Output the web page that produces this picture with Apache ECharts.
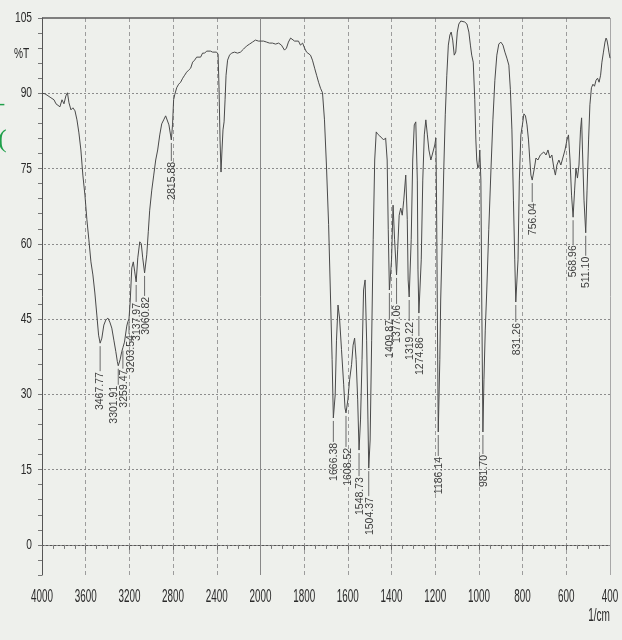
<!DOCTYPE html>
<html>
<head>
<meta charset="utf-8">
<script src="https://cdn.jsdelivr.net/npm/echarts@6/dist/echarts.min.js"></script>
<style>
  html, body { margin: 0; padding: 0; background: #eef0ec; }
  #chart { width: 622px; height: 640px; }
</style>
</head>
<body>
<div id="chart"></div>
<script>
// IR transmittance spectrum, wavenumber (1/cm) vs %T
const wavenumbers = [
  4000, 3973, 3945, 3918, 3890, 3872, 3854, 3836, 3817, 3799, 3781, 3767, 3753, 3735, 3717, 3698,
  3680, 3662, 3644, 3626, 3607, 3589, 3571, 3552, 3534, 3516, 3498, 3482, 3467.77, 3452, 3434, 3416,
  3397, 3379, 3361, 3342, 3324, 3310, 3301.91, 3285, 3270, 3259.47, 3245, 3224, 3215, 3203.54, 3192,
  3178, 3164, 3151, 3137.97, 3123, 3105, 3091, 3078, 3060.82, 3041, 3027, 3014, 2995, 2977, 2959,
  2941, 2922, 2904, 2886, 2868, 2852, 2838, 2815.88, 2805, 2795, 2785, 2767, 2749, 2731, 2712, 2694,
  2676, 2658, 2639, 2621, 2603, 2584, 2566, 2548, 2530, 2511, 2493, 2475, 2457, 2438, 2420, 2402,
  2388, 2379, 2370, 2361, 2352, 2343, 2333, 2324, 2315, 2301, 2283, 2265, 2237, 2210, 2183, 2155,
  2128, 2100, 2073, 2046, 2018, 2000,
  1986, 1972, 1959, 1945, 1931, 1917, 1904, 1890, 1881, 1872, 1862, 1853, 1844, 1835, 1826, 1817,
  1807, 1798, 1789, 1780, 1771, 1762, 1752, 1743, 1734, 1725, 1716, 1707, 1698, 1688, 1679, 1672,
  1666.38, 1658, 1652, 1645, 1638, 1629, 1619, 1613, 1608.52, 1600, 1592, 1583, 1576, 1569, 1562,
  1555, 1548.73, 1542, 1535, 1528, 1521, 1514, 1508, 1504.37, 1498, 1491, 1484, 1477, 1470, 1464,
  1454, 1445, 1436, 1427, 1420, 1415, 1409.87, 1400, 1393, 1386, 1377.06, 1372, 1365, 1358, 1351,
  1344, 1335, 1328, 1324, 1319.22, 1310, 1303, 1296, 1289, 1282, 1279, 1274.86, 1264, 1257, 1250,
  1243, 1236, 1229, 1220, 1211, 1202, 1197, 1194, 1190, 1186.14, 1179, 1175, 1168, 1161, 1154, 1147,
  1140, 1133, 1127, 1120, 1113, 1106, 1099, 1092, 1083, 1074, 1065, 1055, 1046, 1039, 1033, 1026,
  1019, 1014, 1010, 1005, 1000, 996, 991, 987, 981.70, 977, 971, 964, 955, 945, 936, 927,
  918, 909, 900, 890, 881, 872, 863, 856, 849, 842, 836, 831.26, 821, 815, 808, 801,
  794, 787, 780, 773, 767, 762, 756.04, 746, 739, 730, 719, 712, 703, 693, 684, 675,
  666, 657, 650, 643, 634, 625, 616, 606, 597, 590, 583, 576, 568.96, 562, 556, 549,
  542, 535, 530, 526, 519, 511.10, 505, 498, 492, 485, 478, 471, 464, 457, 450, 443,
  437, 430, 423, 418, 414, 409, 405, 400
];
const transmittance = [
  90.0, 89.9, 89.5, 89.1, 88.7, 87.9, 88.1, 87.3, 88.7, 87.9, 89.5, 90.1, 88.1, 86.7, 87.1, 86.5,
  84.7, 82.1, 78.7, 73.7, 69.7, 64.8, 60.8, 56.4, 53.8, 50.2, 45.8, 41.8, 40.2, 41.2, 43.8, 44.8,
  45.2, 44.4, 43.2, 40.8, 38.5, 36.5, 35.7, 36.9, 38.5, 39.3, 40.4, 43.6, 44.4, 45.0, 48.8,
  55.2, 56.4, 54.4, 52.4, 57.2, 60.4, 60.0, 57.2, 54.2, 57.8, 62.4, 66.7, 70.7, 73.7, 76.7,
  78.7, 81.7, 83.9, 84.7, 85.5, 85.7, 83.7, 80.7, 83.7, 88.7, 89.7, 91.1, 91.8, 92.2, 93.0, 93.6,
  94.2, 94.6, 95.0, 96.2, 96.6, 97.2, 97.4, 97.2, 98.0, 98.0, 98.4, 98.2, 98.4, 98.2, 98.4, 98.2,
  97.8, 90.7, 80.7, 74.3, 78.7, 82.7, 84.3, 88.7, 93.6, 96.6, 97.6, 98.0, 98.2, 98.0, 98.2, 98.8,
  99.4, 99.8, 100.2, 100.6, 100.4, 100.4,
  100.4, 100.2, 100.0, 100.0, 99.8, 100.0, 99.6, 98.6, 99.0, 100.2, 101.0, 101.2, 100.4, 100.6, 100.4, 99.6,
  100.0, 99.0, 98.2, 98.2, 97.6, 96.6, 95.0, 93.6, 92.2, 91.0, 90.1, 84.7, 75.7, 63.8, 48.8, 36.9,
  25.3, 29.9, 40.8, 47.8, 45.2, 38.9, 31.9, 27.3, 26.3, 28.9, 32.9, 35.9, 39.8, 41.2, 36.9,
  28.9, 18.9, 24.9, 36.9, 50.8, 52.8, 40.8, 24.9, 15.3, 20.9, 40.8, 60.8, 76.7, 82.3, 81.9,
  81.5, 81.7, 80.7, 81.1, 76.7, 62.8, 50.8, 56.8, 67.7, 60.8, 53.8, 58.8, 65.7, 67.1, 65.7,
  68.7, 73.7, 64.8, 52.8, 49.4, 60.8, 76.7, 83.7, 84.3, 72.7, 54.8, 46.2, 56.8, 72.7, 81.7,
  84.7, 81.7, 78.7, 76.7, 76.7, 79.7, 81.1, 68.7, 44.8, 22.5, 36.9, 48.8, 60.8, 74.7, 85.7, 93.6,
  99.6, 101.6, 102.2, 100.6, 97.6, 98.2, 102.2, 103.8, 104.4, 104.4, 104.2, 103.8, 102.2, 99.6, 97.6, 96.2,
  88.7, 80.7, 76.7, 75.1, 75.7, 78.7, 72.7, 48.8, 22.5, 32.9, 42.8, 50.8, 62.8, 74.7, 84.7, 92.6,
  97.6, 99.8, 100.2, 99.6, 98.2, 97.0, 95.6, 90.7, 82.7, 68.7, 56.8, 48.4, 56.8, 72.7, 81.7, 83.7,
  85.9, 85.5, 83.7, 80.7, 76.7, 73.7, 72.7, 75.1, 77.1, 76.7, 77.7, 77.5, 78.3, 77.7, 78.7, 77.1,
  77.7, 75.1, 73.7, 75.7, 76.7, 75.7, 77.1, 78.7, 80.7, 81.7, 76.7, 69.7, 65.3, 70.7, 75.1, 73.1,
  75.7, 82.7, 85.1, 78.7, 68.7, 62.2, 70.7, 80.7, 87.7, 91.1, 91.8, 91.4, 92.6, 93.0, 92.2, 93.6,
  96.2, 98.2, 100.2, 101.0, 100.6, 99.4, 98.2, 97.0
];

// Labelled absorption minima
const peakWavenumbers = [
  3467.77, 3301.91, 3259.47, 3203.54, 3137.97, 3060.82, 2815.88, 1666.38, 1608.52, 1548.73, 1504.37,
  1409.87, 1377.06, 1319.22, 1274.86, 1186.14, 981.70, 831.26, 756.04, 568.96, 511.10
];
const peakTransmittance = [
  40.2, 35.7, 39.3, 45.0, 52.4, 54.2, 80.7, 25.3, 26.3, 18.9, 15.3,
  50.8, 53.8, 49.4, 46.2, 22.5, 22.5, 48.4, 72.7, 65.3, 62.2
];

// Tick labels
const xTickLabels = [4000, 3600, 3200, 2800, 2400, 2000, 1800, 1600, 1400, 1200, 1000, 800, 600, 400];
const yTickLabels = [0, 15, 30, 45, 60, 75, 90, 105];

// Peak label layout: drop of the text below the minimum and sideways nudge, in px
const peakLabelDrop = [29, 20, 22, 16, 21, 24, 22, 25, 35, 27, 29, 30, 30, 25, 24, 25, 23, 21, 23, 28, 24];
const peakLabelNudge = [0, -4, 1, 2, 1, 2, 1, 1, 2, 1, 1, 1, 1, 1, 1, 1, 1, 1, 1, 0, 0];

// The scale above 2000 1/cm is compressed by a factor of two
function toAxis(wn) { return wn > 2000 ? 2000 + (wn - 2000) / 2 : wn; }

const FONT = "'Liberation Sans', Arial, sans-serif";
const INK = '#2a2a2a';

const spectrum = wavenumbers.map((w, i) => [toAxis(w), transmittance[i]]);
const peaks = peakWavenumbers.map((w, i) => [toAxis(w), peakTransmittance[i], w.toFixed(2)]);

const chart = echarts.init(document.getElementById('chart'), null, { renderer: 'canvas' });

const gridMarks = yTickLabels.filter(v => v < 105).map(v => ({
  yAxis: v,
  lineStyle: { type: [2, 2], color: '#8c8c8c', width: 1 }
}));
gridMarks.push({ yAxis: 105, lineStyle: { type: 'solid', color: '#5a5a5a', width: 1.5 } });
gridMarks.push({ xAxis: 2000, lineStyle: { type: 'solid', color: '#888', width: 1 } });
gridMarks.push({ xAxis: 400, lineStyle: { type: 'solid', color: '#a8a8a8', width: 1 } });

chart.setOption({
  backgroundColor: '#eef0ec',
  animation: false,
  grid: { left: 42, right: 12, top: 18, bottom: 65, containLabel: false },
  xAxis: {
    type: 'value',
    min: 400,
    max: 3000,
    interval: 200,
    inverse: true,
    axisLine: { show: true, lineStyle: { color: '#555', width: 1 } },
    axisTick: { show: true, length: 5, lineStyle: { color: '#666' } },
    minorTick: { show: true, splitNumber: 4, length: 4, lineStyle: { color: '#777' } },
    splitLine: { show: true, lineStyle: { type: [4, 3], color: '#9c9c9c', width: 1 } },
    axisLabel: { show: false }
  },
  yAxis: {
    type: 'value',
    min: -6,
    max: 105,
    interval: 3,
    axisLine: { show: true, lineStyle: { color: '#555', width: 1 } },
    axisTick: { show: true, length: 4, lineStyle: { color: '#777' } },
    splitLine: { show: false },
    axisLabel: { show: false }
  },
  series: [
    {
      type: 'line',
      data: spectrum,
      showSymbol: false,
      symbol: 'none',
      lineStyle: { color: '#4a4a4a', width: 1 },
      z: 3,
      markLine: {
        silent: true,
        symbol: ['none', 'none'],
        label: { show: false },
        animation: false,
        data: gridMarks,
        z: 1
      }
    },
    {
      type: 'custom',
      data: peaks,
      clip: false,
      z: 4,
      encode: { x: 0, y: 1 },
      dimensions: ['u', 't', { name: 'label', type: 'ordinal' }],
      renderItem: function (params, api) {
        const i = params.dataIndex;
        const p = api.coord([api.value(0), api.value(1)]);
        const drop = peakLabelDrop[i];
        return {
          type: 'group',
          children: [
            {
              type: 'line',
              shape: { x1: p[0], y1: p[1] + 3, x2: p[0], y2: p[1] + drop - 1 },
              style: { stroke: '#6a6a6a', lineWidth: 1 }
            },
            {
              type: 'text',
              x: p[0] + peakLabelNudge[i],
              y: p[1] + drop,
              rotation: Math.PI / 2,
              style: {
                text: api.value(2),
                align: 'right',
                verticalAlign: 'middle',
                fontSize: 10.5,
                fontFamily: FONT,
                fill: '#3c3c3c'
              }
            }
          ]
        };
      }
    }
  ]
});

// Condensed tick labels placed through the axis scales
const labels = [];
xTickLabels.forEach(wn => {
  const x = chart.convertToPixel({ xAxisIndex: 0 }, toAxis(wn));
  const y = chart.convertToPixel({ yAxisIndex: 0 }, -6) + 22;
  labels.push({
    type: 'text', x: x, y: y, scaleX: 0.52, silent: true,
    style: { text: String(wn), align: 'center', verticalAlign: 'middle', fontSize: 19, fontFamily: FONT, fill: INK }
  });
});
yTickLabels.forEach(v => {
  const y = chart.convertToPixel({ yAxisIndex: 0 }, v);
  labels.push({
    type: 'text', x: 32, y: y, scaleX: 0.68, silent: true,
    style: { text: String(v), align: 'right', verticalAlign: 'middle', fontSize: 15, fontFamily: FONT, fill: INK }
  });
});
labels.push({
  type: 'text', x: 14, y: 54, scaleX: 0.68, silent: true,
  style: { text: '%T', align: 'left', verticalAlign: 'middle', fontSize: 15, fontFamily: FONT, fill: INK }
});
labels.push({
  type: 'text', x: 610, y: 616, scaleX: 0.56, silent: true,
  style: { text: '1/cm', align: 'right', verticalAlign: 'middle', fontSize: 18, fontFamily: FONT, fill: INK }
});
labels.push({
  type: 'text', x: -1, y: 104, silent: true,
  style: { text: '-', align: 'left', verticalAlign: 'middle', fontSize: 18, fontFamily: 'Liberation Serif', fill: '#1fa04a' }
});
labels.push({
  type: 'text', x: -2, y: 140, silent: true,
  style: { text: '(', align: 'left', verticalAlign: 'middle', fontSize: 26, fontFamily: 'Liberation Serif', fill: '#1fa04a' }
});
chart.setOption({ graphic: labels });
</script>
</body>
</html>
